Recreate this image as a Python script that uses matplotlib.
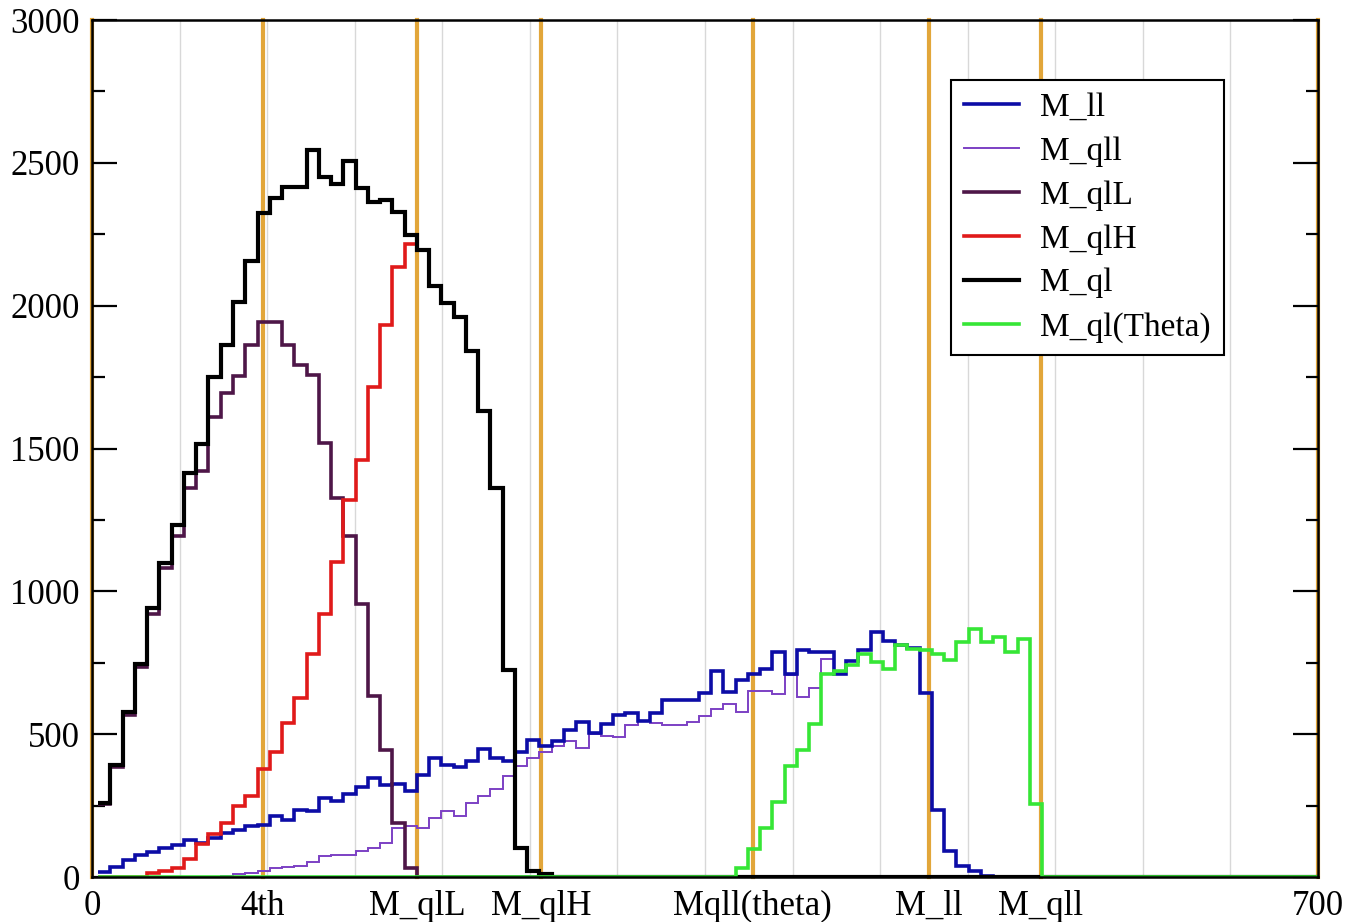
import numpy as np
import matplotlib
matplotlib.use("Agg")
import matplotlib.pyplot as plt
from matplotlib.lines import Line2D
from matplotlib.ticker import MultipleLocator

# Histogram binning (GeV)
bin_width = 7.0
first_edge = 3.5
n_bins = 100

# Bin contents, starting at the first bin
m_ll = [19, 36, 59, 77, 89, 100, 112, 130, 118, 136, 153, 165, 177, 183, 212, 200,
        235, 232, 276, 266, 290, 314, 348, 321, 325, 300, 358, 417, 393, 386, 407,
        448, 416, 406, 438, 480, 460, 476, 514, 543, 505, 537, 566, 575, 545, 575,
        620, 620, 620, 645, 720, 648, 689, 712, 728, 788, 710, 793, 788, 788, 712,
        755, 793, 857, 825, 813, 800, 645, 233, 92, 40, 20, 5]

m_qll = [0, 0, 0, 0, 0, 0, 0, 0, 0, 0, 5, 10, 15, 22, 30, 36, 38, 52, 73, 78, 78,
         90, 100, 118, 172, 180, 170, 205, 230, 214, 260, 285, 308, 355, 390, 415,
         438, 458, 475, 452, 500, 495, 490, 531, 545, 540, 531, 531, 543, 564, 588,
         605, 578, 651, 652, 642, 708, 630, 662, 762, 712, 755, 793, 857, 825, 813,
         800, 645, 233, 92, 40, 20, 5]

m_qlL = [255, 385, 568, 735, 920, 1080, 1192, 1360, 1420, 1609, 1693, 1754, 1861,
         1942, 1942, 1861, 1791, 1757, 1518, 1325, 1192, 955, 633, 445, 190, 30]

m_qlH = [0, 0, 0, 0, 13, 20, 30, 62, 115, 150, 188, 248, 284, 379, 438, 538, 625,
         780, 920, 1102, 1318, 1460, 1715, 1933, 2135, 2216, 2194, 2068, 2009, 1959,
         1841, 1631, 1362, 723, 101, 20, 12]

m_ql = [260, 392, 578, 745, 942, 1100, 1232, 1415, 1515, 1749, 1861, 2012, 2157,
        2323, 2377, 2414, 2414, 2545, 2450, 2426, 2505, 2413, 2362, 2369, 2328, 2248,
        2194, 2068, 2009, 1959, 1841, 1631, 1362, 723, 101, 20, 12]

m_ql_theta = [0] * 52 + [30, 98, 170, 264, 388, 445, 535, 710, 720, 741, 782, 753,
                         729, 811, 799, 793, 782, 758, 823, 869, 823, 840, 788, 832, 257]

series_labels = ["M_ll", "M_qll", "M_qlL", "M_qlH", "M_ql", "M_ql(Theta)"]
series_data = [m_ll, m_qll, m_qlL, m_qlH, m_ql, m_ql_theta]
series_colors = ["#0c0ca6", "#7c40c4", "#4e1648", "#e01a1a", "#000000", "#36e636"]
series_widths = [2.6, 1.4, 2.6, 2.6, 3.0, 2.6]
series_z = [3.5, 3.0, 3.6, 3.7, 3.8, 3.9]

# Kinematic endpoints marked on the x axis
endpoint_pos = [0, 97.6, 185.5, 256.3, 377.3, 477.7, 541.6, 700]
endpoint_labels = ["0", "4th", "M_qlL", "M_qlH", "Mqll(theta)", "M_ll", "M_qll", "700"]

plt.rcParams["font.family"] = ["Liberation Serif", "DejaVu Serif"]

fig = plt.figure(figsize=(13.52, 9.22), dpi=100)
fig.subplots_adjust(left=92 / 1352, right=1318 / 1352, bottom=45 / 922, top=902 / 922)
ax = fig.add_subplot(111)

edges = first_edge + bin_width * np.arange(n_bins + 1)


def padded(vals):
    out = np.zeros(n_bins)
    out[:len(vals)] = vals
    return out


# light vertical grid every 50
for gx in np.arange(50, 700, 50):
    ax.axvline(gx, color="#d8d8d8", lw=1.0, zorder=0)

# endpoint markers
for ex in endpoint_pos:
    ax.axvline(ex, color="#e2a63a", lw=3.0, zorder=1, clip_on=False)

handles = []
for vals, lab, col, lw, z in zip(series_data, series_labels, series_colors,
                                 series_widths, series_z):
    ax.stairs(padded(vals), edges, baseline=None, color=col, lw=lw, zorder=z)
    handles.append(Line2D([], [], color=col, lw=lw, label=lab))

ax.set_xlim(0, 700)
ax.set_ylim(0, 3000)

ax.set_xticks(endpoint_pos)
ax.set_xticklabels(endpoint_labels)
ax.tick_params(axis="x", length=0, pad=9, labelsize=25)

ax.yaxis.set_major_locator(MultipleLocator(500))
ax.yaxis.set_minor_locator(MultipleLocator(250))
ax.tick_params(axis="y", which="both", direction="in", left=True, right=True,
               labelsize=25, width=1.6, pad=9)
ax.tick_params(axis="y", which="major", length=18)
ax.tick_params(axis="y", which="minor", length=9)

for sp in ax.spines.values():
    sp.set_linewidth(1.8)
    sp.set_zorder(4)

leg = ax.legend(handles=handles, loc="upper left", bbox_to_anchor=(0.7007, 0.930),
                fontsize=24, frameon=True, fancybox=False, framealpha=1,
                edgecolor="black", handlelength=1.65, handletextpad=0.65,
                labelspacing=0.4, borderpad=0.38, borderaxespad=0)
leg.get_frame().set_linewidth(1.5)
leg.set_zorder(5)

fig.savefig("out.png", dpi=100)
